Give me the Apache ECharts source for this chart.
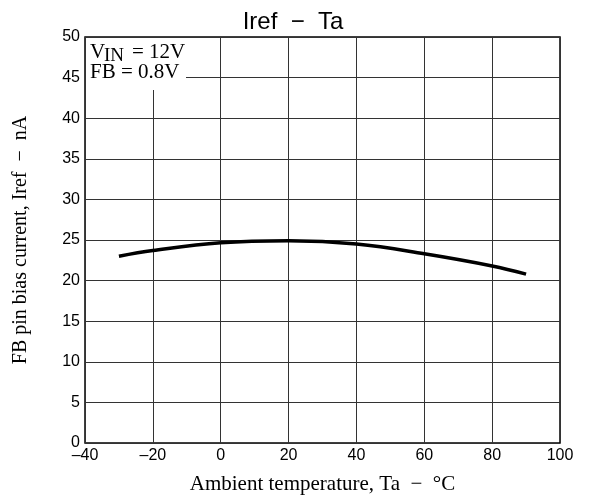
<!DOCTYPE html>
<html><head><meta charset="utf-8">
<script src="https://cdn.jsdelivr.net/npm/echarts@6/dist/echarts.min.js"></script>
<style>html,body{margin:0;padding:0;background:#fff}#c{width:601px;height:500px}</style>
</head><body><div id="c"></div>
<script>
const temps = [-30, -20, 0, 20, 40, 60, 80, 90];
const iref = [23.0, 23.7, 24.65, 24.9, 24.5, 23.3, 21.8, 20.8];
const xTicks = [-40, -20, 0, 20, 40, 60, 80, 100];
const yTicks = [0, 5, 10, 15, 20, 25, 30, 35, 40, 45, 50];

const chart = echarts.init(document.getElementById('c'));
const serif = '"Liberation Serif", "DejaVu Serif", serif';
const narrow = '"Liberation Sans Narrow", "Liberation Sans", Arial, sans-serif';
chart.setOption({
  animation: false,
  title: {text: 'Iref  \u2212  Ta', left: 288, top: 5, textAlign: 'center',
    textStyle: {fontFamily: narrow, fontWeight: 'normal', fontSize: 24, color: '#000'}},
  grid: {left: 85, right: 41, top: 37, bottom: 57, show: true, borderColor: '#000', borderWidth: 1.5},
  xAxis: {type: 'value', min: xTicks[0], max: xTicks[xTicks.length - 1], interval: 20,
    name: 'Ambient temperature, Ta  \u2212  \u00B0C', nameLocation: 'middle', nameGap: 31,
    nameTextStyle: {fontFamily: serif, fontSize: 21, color: '#000'},
    axisLine: {show: false}, axisTick: {show: false},
    axisLabel: {fontFamily: narrow, fontSize: 16, color: '#000', margin: 5,
      formatter: v => String(v).replace('-', '\u2013')},
    splitLine: {lineStyle: {color: '#333', width: 1}}},
  yAxis: {type: 'value', min: yTicks[0], max: yTicks[yTicks.length - 1], interval: 5,
    name: 'FB pin bias current, Iref  \u2212  nA', nameLocation: 'middle', nameGap: 54,
    nameTextStyle: {fontFamily: serif, fontSize: 20, color: '#000'},
    axisLine: {show: false}, axisTick: {show: false},
    axisLabel: {fontFamily: narrow, fontSize: 16, color: '#000', margin: 5},
    splitLine: {lineStyle: {color: '#333', width: 1}}},
  series: [{type: 'line', smooth: 0.4, symbol: 'none',
    data: temps.map((t, i) => [t, iref[i]]),
    lineStyle: {color: '#000', width: 3.5}}],
  graphic: [
    {type: 'rect', left: 86, top: 38, shape: {width: 100, height: 52}, style: {fill: '#fff'}, z: 10},
    {type: 'text', left: 90, top: 42, z: 11, style: {text: 'V', font: '21px ' + serif, fill: '#000'}},
    {type: 'text', left: 104, top: 47, z: 11, style: {text: 'IN', font: '19px ' + serif, fill: '#000'}},
    {type: 'text', left: 132, top: 42, z: 11, style: {text: '= 12V', font: '21px ' + serif, fill: '#000'}},
    {type: 'text', left: 90, top: 62, z: 11, style: {text: 'FB = 0.8V', font: '21px ' + serif, fill: '#000'}}
  ]
});
</script></body></html>
